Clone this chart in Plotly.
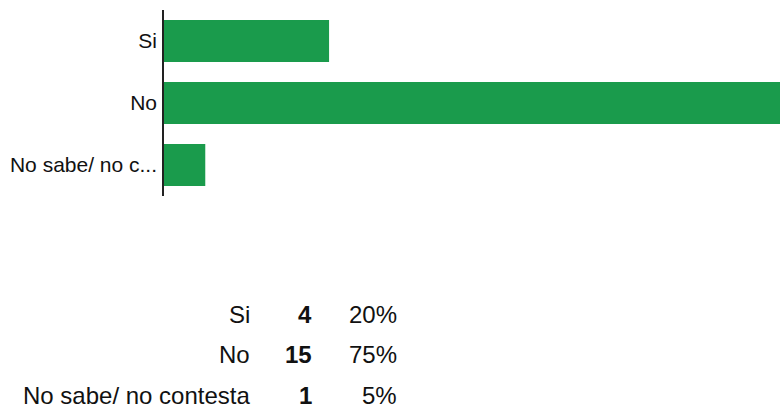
import plotly.graph_objects as go

categories = ["Si", "No", "No sabe/ no contesta"]
tick_labels = ["Si", "No", "No sabe/ no c..."]
counts = [4, 15, 1]
percents = ["20%", "75%", "5%"]

W, H = 780, 414
L, R, T, B = 164, 0, 10, 218
pw, ph = W - L - R, H - T - B

def px(x):
    return (x - L) / pw

def py(y):
    return (H - B - y) / ph

fig = go.Figure(go.Bar(
    x=counts, y=tick_labels, orientation="h",
    marker=dict(color="#1a9b4c", line=dict(width=0)),
    hoverinfo="skip",
))

annotations = []
row_y = [314, 354, 395]
font = dict(family="Liberation Sans, Arial, sans-serif", size=24, color="#111111")
for i, (c, n, p) in enumerate(zip(categories, counts, percents)):
    yy = py(row_y[i])
    annotations.append(dict(x=px(252), y=yy, xref="paper", yref="paper", text=c,
                            showarrow=False, xanchor="right", yanchor="middle", font=font))
    annotations.append(dict(x=px(314), y=yy, xref="paper", yref="paper", text=f"<b>{n}</b>",
                            showarrow=False, xanchor="right", yanchor="middle", font=font))
    annotations.append(dict(x=px(399), y=yy, xref="paper", yref="paper", text=p,
                            showarrow=False, xanchor="right", yanchor="middle", font=font))

fig.update_layout(
    width=W, height=H,
    margin=dict(l=L, r=R, t=T, b=B, pad=0),
    paper_bgcolor="white", plot_bgcolor="white",
    bargap=0.32,
    showlegend=False,
    xaxis=dict(range=[0, 15 * 616 / 619], visible=False, fixedrange=True),
    yaxis=dict(autorange="reversed", showline=True, linecolor="#222222", linewidth=1.5,
               ticks="", showgrid=False, ticklabelstandoff=1, fixedrange=True,
               tickfont=dict(family="Liberation Sans, Arial, sans-serif", size=21, color="#111111")),
    annotations=annotations,
)

fig.write_html("out.html", config={"displayModeBar": False},
               post_script="document.body.style.margin='0';")
